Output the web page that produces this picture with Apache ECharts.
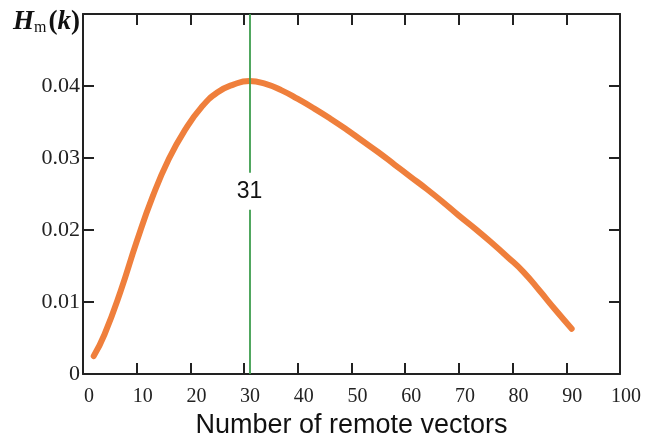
<!DOCTYPE html>
<html>
<head>
<meta charset="utf-8">
<script src="https://cdn.jsdelivr.net/npm/echarts@6/dist/echarts.min.js"></script>
<style>html,body{margin:0;padding:0;background:#fff;}#c{width:647px;height:444px;}</style>
</head>
<body>
<div id="c"></div>
<script>
// Data
var kValues = [2, 4, 7, 10, 13, 16, 19, 22, 25, 28, 31, 34, 37, 40, 43, 46, 49, 52, 55, 58, 61, 64, 67, 70, 73, 76, 79, 82, 85, 88, 91];
var hmValues = [0.0025, 0.0055, 0.0115, 0.0184, 0.0247, 0.0299, 0.0339, 0.0370, 0.0391, 0.0402, 0.0407, 0.0403, 0.0394, 0.0382, 0.0369, 0.0355, 0.0340, 0.0324, 0.0308, 0.0291, 0.0274, 0.0257, 0.0239, 0.0220, 0.0202, 0.0183, 0.0163, 0.0142, 0.0116, 0.0089, 0.0063];
var peakK = 31;
var peakLabelY = 0.0254;
var peakLabel = '31';
var xTickLabels = ['0', '10', '20', '30', '40', '50', '60', '70', '80', '90', '100'];
var yTickLabels = ['0', '0.01', '0.02', '0.03', '0.04', ''];
var xAxisTitle = 'Number of remote vectors';

var seriesData = kValues.map(function (k, i) { return [k, hmValues[i]]; });

var axisCol = '#222';
var serif = 'Liberation Serif';

var chart = echarts.init(document.getElementById('c'), null, {renderer: 'canvas'});
chart.setOption({
  animation: false,
  backgroundColor: '#fff',
  grid: {left: 83, right: 27, top: 14, bottom: 61, containLabel: false},
  xAxis: [{
    type: 'value', min: 0, max: 100, interval: 10,
    position: 'bottom',
    name: xAxisTitle, nameLocation: 'middle', nameGap: 28,
    nameTextStyle: {fontFamily: 'Liberation Sans', fontSize: 27, color: '#111'},
    axisLine: {show: true, onZero: false, lineStyle: {color: axisCol, width: 2}},
    axisTick: {show: true, inside: true, length: 11, lineStyle: {color: axisCol, width: 2}},
    axisLabel: {
      margin: 13, fontFamily: serif, fontSize: 20, color: '#222', padding: [0, 0, 0, 12],
      formatter: function (v, i) { return xTickLabels[i]; }
    },
    splitLine: {show: false}
  }, {
    type: 'value', min: 0, max: 100, interval: 10,
    position: 'top',
    axisLine: {show: true, onZero: false, lineStyle: {color: axisCol, width: 2}},
    axisTick: {show: true, inside: true, length: 11, lineStyle: {color: axisCol, width: 2}},
    axisLabel: {show: false},
    splitLine: {show: false}
  }],
  yAxis: [{
    type: 'value', min: 0, max: 0.05, interval: 0.01,
    position: 'left',
    name: '{h|H}{m|m}{p|(}{k|k}{p|)}',
    nameLocation: 'end', nameGap: -8,
    nameTextStyle: {
      align: 'right', verticalAlign: 'middle', padding: [0, 3, 0, 0],
      rich: {
        h: {fontFamily: serif, fontSize: 27, fontWeight: 'bold', fontStyle: 'italic', color: '#111'},
        m: {fontFamily: serif, fontSize: 16, color: '#111', padding: [11, 2, 0, 0]},
        p: {fontFamily: serif, fontSize: 27, fontWeight: 'bold', color: '#111'},
        k: {fontFamily: serif, fontSize: 27, fontWeight: 'bold', fontStyle: 'italic', color: '#111'}
      }
    },
    axisLine: {show: true, onZero: false, lineStyle: {color: axisCol, width: 2}},
    axisTick: {show: true, inside: true, length: 11, lineStyle: {color: axisCol, width: 2}},
    axisLabel: {
      margin: 3, fontFamily: serif, fontSize: 22, color: '#222', padding: [9, 0, 0, 0],
      formatter: function (v, i) { return yTickLabels[i]; }
    },
    splitLine: {show: false}
  }, {
    type: 'value', min: 0, max: 0.05, interval: 0.01,
    position: 'right',
    axisLine: {show: true, onZero: false, lineStyle: {color: axisCol, width: 2}},
    axisTick: {show: true, inside: true, length: 11, lineStyle: {color: axisCol, width: 2}},
    axisLabel: {show: false},
    splitLine: {show: false}
  }],
  series: [{
    type: 'line',
    xAxisIndex: 0, yAxisIndex: 0,
    data: seriesData,
    smooth: 0.5,
    showSymbol: false,
    symbol: 'none',
    lineStyle: {color: '#EF7F3C', width: 6, cap: 'round', join: 'round'},
    z: 3,
    markLine: {
      silent: true,
      symbol: ['none', 'none'],
      animation: false,
      label: {show: false},
      lineStyle: {color: '#3E9E4E', width: 1.8, type: 'solid'},
      data: [{xAxis: peakK}]
    },
    markPoint: {
      silent: true,
      animation: false,
      symbol: 'rect',
      symbolSize: 1,
      itemStyle: {color: 'rgba(0,0,0,0)'},
      label: {
        show: true, position: 'inside', formatter: peakLabel,
        fontFamily: 'Liberation Sans', fontSize: 23, color: '#111',
        backgroundColor: '#fff', padding: [8, 2, 6, 2]
      },
      data: [{coord: [peakK, peakLabelY]}]
    }
  }]
});
</script>
</body>
</html>
